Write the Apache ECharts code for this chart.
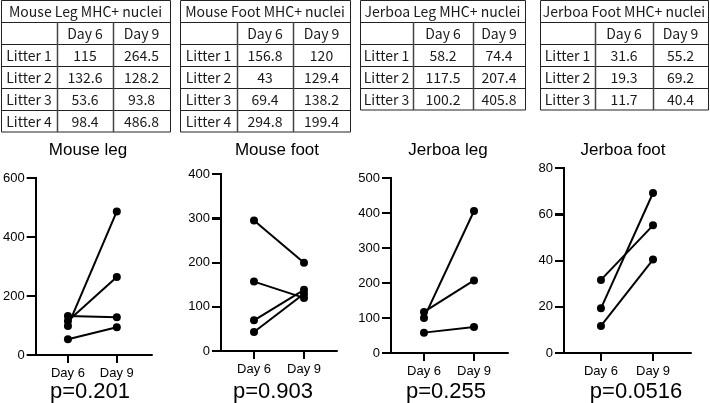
<!DOCTYPE html>
<html><head><meta charset="utf-8">
<script src="https://cdn.jsdelivr.net/npm/echarts@6/dist/echarts.min.js"></script>
<style>html,body{margin:0;padding:0;background:#fff}
#wrap{position:relative;width:710px;height:403px;background:#fff}
#c,#t{position:absolute;left:0;top:0;width:710px;height:403px}
#t{pointer-events:none}</style>
</head><body><div id="wrap"><div id="c"></div><div id="t"></div></div>
<script>
// ---- data ----
const categories = ['Day 6', 'Day 9'];
const mouseLegDay6 = [115, 132.6, 53.6, 98.4];
const mouseLegDay9 = [264.5, 128.2, 93.8, 486.8];
const mouseFootDay6 = [156.8, 43, 69.4, 294.8];
const mouseFootDay9 = [120, 129.4, 138.2, 199.4];
const jerboaLegDay6 = [58.2, 117.5, 100.2];
const jerboaLegDay9 = [74.4, 207.4, 405.8];
const jerboaFootDay6 = [31.6, 19.3, 11.7];
const jerboaFootDay9 = [55.2, 69.2, 40.4];
const chartTitles = ['Mouse leg', 'Mouse foot', 'Jerboa leg', 'Jerboa foot'];
const pValues = ['p=0.201', 'p=0.903', 'p=0.255', 'p=0.0516'];
const tableTitles = ['Mouse Leg MHC+ nuclei', 'Mouse Foot MHC+ nuclei', 'Jerboa Leg MHC+ nuclei', 'Jerboa Foot MHC+ nuclei'];
const yMax = [600, 400, 500, 80];
const yInterval = [200, 100, 100, 20];
const dayPositions = [1, 2];

const dataSets = [
  [mouseLegDay6, mouseLegDay9],
  [mouseFootDay6, mouseFootDay9],
  [jerboaLegDay6, jerboaLegDay9],
  [jerboaFootDay6, jerboaFootDay9]
];

// ---- layout ----
const panels = [
  {left: 33, top: 178, width: 119, height: 177, xMin: 0.34, xMax: 2.72, cx: 90},
  {left: 221, top: 174, width: 116, height: 177, xMin: 0.34, xMax: 2.66, cx: 273},
  {left: 391, top: 178, width: 117, height: 175, xMin: 0.34, xMax: 2.68, cx: 446},
  {left: 564, top: 168, width: 127, height: 185, xMin: 0.29, xMax: 2.73, cx: 636}
];
const tables = [
  {xs: [1, 57, 113, 170]},
  {xs: [180, 237, 293, 350]},
  {xs: [360, 413, 473, 525]},
  {xs: [540, 595, 653, 708]}
];
const rowH = 22;
const tableFont = '"Noto Sans CJK JP", "Noto Sans", sans-serif';
const plotFont = '"Liberation Sans", Arial, sans-serif';
const titleCx = [88, 277, 448, 623];
const yTickLen = 9, xTickLen = 8;

const grids = [], xAxes = [], yAxes = [], series = [], graphics = [];

panels.forEach((p, i) => {
  grids.push({left: p.left, top: p.top, width: p.width, height: p.height});
  xAxes.push({
    type: 'value', gridIndex: i, min: p.xMin, max: p.xMax,
    splitLine: {show: false},
    axisLine: {show: true, onZero: false, lineStyle: {color: '#000', width: 2}},
    axisTick: {show: true, customValues: dayPositions, length: xTickLen, lineStyle: {color: '#000', width: 2}},
    axisLabel: {customValues: dayPositions, margin: 12, color: '#000', fontSize: 13, fontFamily: plotFont,
      formatter: v => categories[Math.round(v) - 1] || ''}
  });
  yAxes.push({
    type: 'value', gridIndex: i, min: 0, max: yMax[i], interval: yInterval[i],
    splitLine: {show: false},
    axisLine: {show: true, lineStyle: {color: '#000', width: 2}},
    axisTick: {show: true, length: yTickLen, lineStyle: {color: '#000', width: 2}},
    axisLabel: {color: '#000', fontSize: 13, fontFamily: plotFont, margin: 11}
  });
  const [d6, d9] = dataSets[i];
  d6.forEach((v, k) => {
    series.push({
      type: 'line', xAxisIndex: i, yAxisIndex: i,
      data: [[dayPositions[0], v], [dayPositions[1], d9[k]]],
      symbol: 'circle', symbolSize: 8, showSymbol: true,
      lineStyle: {color: '#000', width: 2}, itemStyle: {color: '#000'}
    });
  });
  // axis frame drawn through the same scales (line + ticks)
  series.push({
    type: 'custom', xAxisIndex: i, yAxisIndex: i, silent: true, clip: false, z: 20,
    data: [[p.xMin, 0]],
    renderItem: (params, api) => {
      const st = {stroke: '#000', lineWidth: 2, fill: null};
      const o = api.coord([p.xMin, 0]);
      const top = api.coord([p.xMin, yMax[i]]);
      const right = api.coord([p.xMax, 0]);
      const ax = Math.round(o[0]), ay = Math.round(o[1]);
      const kids = [
        {type: 'line', shape: {x1: ax, y1: ay + 1, x2: ax, y2: Math.round(top[1]) - 1}, style: st},
        {type: 'line', shape: {x1: ax - 1, y1: ay, x2: Math.round(right[0]), y2: ay}, style: st}
      ];
      for (let v = 0; v <= yMax[i] + 1e-9; v += yInterval[i]) {
        const c = api.coord([p.xMin, v]);
        const ty = Math.round(c[1]);
        kids.push({type: 'line', shape: {x1: ax - yTickLen, y1: ty, x2: ax, y2: ty}, style: st});
      }
      dayPositions.forEach(d => {
        const c = api.coord([d, 0]);
        const tx = Math.round(c[0]);
        kids.push({type: 'line', shape: {x1: tx, y1: ay, x2: tx, y2: ay + xTickLen}, style: st});
      });
      return {type: 'group', children: kids};
    }
  });
  graphics.push({type: 'text', x: titleCx[i], y: 150,
    style: {text: chartTitles[i], align: 'center', verticalAlign: 'middle', font: '17px ' + plotFont, fill: '#000'}});
  graphics.push({type: 'text', x: p.cx, y: 392,
    style: {text: pValues[i], align: 'center', verticalAlign: 'middle', font: '22px ' + plotFont, fill: '#000'}});
});

// tables
tables.forEach((t, i) => {
  const [d6, d9] = dataSets[i];
  const nRows = 2 + d6.length;
  const x0 = t.xs[0], x3 = t.xs[3];
  const yTop = 0.5, yBot = nRows * rowH;
  const stroke = '#222';
  graphics.push({type: 'rect', shape: {x: x0 + 0.5, y: yTop, width: x3 - x0, height: yBot - yTop},
    style: {fill: 'none', stroke: stroke, lineWidth: 1}});
  for (let r = 1; r < nRows; r++) {
    graphics.push({type: 'line', shape: {x1: x0, y1: r * rowH + 0.5, x2: x3, y2: r * rowH + 0.5}, style: {stroke: stroke, lineWidth: 1}});
  }
  [1, 2].forEach(c => {
    graphics.push({type: 'line', shape: {x1: t.xs[c] + 0.5, y1: rowH, x2: t.xs[c] + 0.5, y2: yBot}, style: {stroke: '#444', lineWidth: 1.5}});
  });
  const txt = (s, cx, cy) => graphics.push({type: 'text', x: cx, y: cy,
    style: {text: s, align: 'center', verticalAlign: 'middle', font: '14px ' + tableFont, fill: '#1a1a1a'}});
  txt(tableTitles[i], (x0 + x3) / 2, rowH / 2 + 1);
  const colC = [(t.xs[0] + t.xs[1]) / 2, (t.xs[1] + t.xs[2]) / 2, (t.xs[2] + t.xs[3]) / 2];
  txt(categories[0], colC[1], rowH * 1.5 + 1);
  txt(categories[1], colC[2], rowH * 1.5 + 1);
  d6.forEach((v, k) => {
    const cy = rowH * (2.5 + k) + 1;
    txt('Litter ' + (k + 1), colC[0], cy);
    txt(String(v), colC[1], cy);
    txt(String(d9[k]), colC[2], cy);
  });
});

const chart = echarts.init(document.getElementById('c'));
chart.setOption({
  animation: false,
  grid: grids, xAxis: xAxes, yAxis: yAxes, series: series
});
const overlay = echarts.init(document.getElementById('t'));
overlay.setOption({
  animation: false,
  graphic: graphics
});
</script></body></html>
